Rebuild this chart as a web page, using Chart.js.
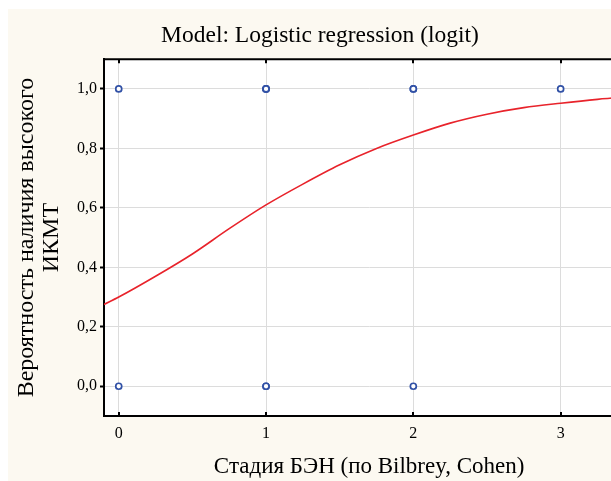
<!DOCTYPE html>
<html lang="ru">
  <head>
    <meta charset="UTF-8" />
    <title>Logistic regression</title>
    <script src="https://cdn.jsdelivr.net/npm/chart.js"></script>
    <style>
      html, body { margin: 0; padding: 0; background: #fff; overflow: hidden; }
      #wrap { width: 611px; height: 481px; overflow: hidden; }
    </style>
  </head>
  <body>
    <div id="wrap">
      <canvas id="myChart" width="640" height="481"></canvas>
    </div>
    <script>
      // observed cases (stage, outcome)
      let obsX = [0, 1, 1, 1, 2, 2, 3, 0, 1, 1, 2];
      let obsY = [1, 1, 1, 1, 1, 1, 1, 0, 0, 0, 0];

      // fitted curve
      let curveX = [-0.1, 0, 0.25, 0.5, 0.75, 1, 1.25, 1.5, 1.75, 2, 2.25, 2.5, 2.75, 3, 3.25, 3.5];
      let curveY = [0.275, 0.3, 0.37, 0.445, 0.53, 0.61, 0.68, 0.745, 0.8, 0.845, 0.885, 0.915, 0.937, 0.952, 0.965, 0.975];

      let xTicks = [0, 1, 2, 3];
      let yTicks = [0, 0.2, 0.4, 0.6, 0.8, 1];

      const serif = "'Liberation Serif', 'Times New Roman', serif";

      const frame = {
        id: "frame",
        beforeDraw(chart) {
          const ctx = chart.ctx;
          const a = chart.chartArea;
          ctx.save();
          ctx.fillStyle = "#fcf9f1";
          ctx.fillRect(8, 9, chart.width - 8, chart.height - 9);
          ctx.fillStyle = "#ffffff";
          ctx.fillRect(a.left, a.top, a.right - a.left, a.bottom - a.top);
          ctx.restore();
        },
        afterDraw(chart) {
          const ctx = chart.ctx;
          const a = chart.chartArea;
          const xs = chart.scales.x;
          ctx.save();
          ctx.strokeStyle = "#000";
          ctx.lineWidth = 2;
          ctx.beginPath();
          ctx.moveTo(a.left - 1, a.top);
          ctx.lineTo(a.right, a.top);
          xTicks.forEach((v) => {
            const px = Math.round(xs.getPixelForValue(v));
            ctx.moveTo(px, a.top);
            ctx.lineTo(px, a.top + 4);
            ctx.moveTo(px, a.bottom);
            ctx.lineTo(px, a.bottom - 4);
          });
          ctx.stroke();
          ctx.restore();
        },
      };

      new Chart(document.getElementById("myChart"), {
        data: {
          datasets: [
            {
              type: "scatter",
              data: obsX.map((x, i) => ({ x: x, y: obsY[i] })),
              pointRadius: 3,
              pointBorderWidth: 1.7,
              borderColor: "#3151a6",
              backgroundColor: "#ffffff",
              order: 1,
            },
            {
              type: "line",
              data: curveX.map((x, i) => ({ x: x, y: curveY[i] })),
              borderColor: "#e8232b",
              borderWidth: 1.6,
              pointRadius: 0,
              cubicInterpolationMode: "monotone",
              fill: false,
              order: 2,
            },
          ],
        },
        options: {
          responsive: false,
          animation: false,
          devicePixelRatio: 1,
          layout: { padding: 0 },
          plugins: {
            legend: { display: false },
            tooltip: { enabled: false },
            title: {
              display: true,
              text: "Model: Logistic regression (logit)",
              color: "#000",
              font: { family: serif, size: 23.5, weight: "normal", lineHeight: 1.2 },
              padding: { top: 22, bottom: 9 },
            },
          },
          scales: {
            x: {
              type: "linear",
              position: "bottom",
              min: -0.1,
              max: 3.5,
              afterBuildTicks: (s) => { s.ticks = xTicks.map((v) => ({ value: v })); },
              afterFit: (s) => { s.height = 65; },
              grid: { color: "#dcdcdc", lineWidth: 1, drawTicks: false },
              border: { color: "#000", width: 2 },
              ticks: {
                color: "#000",
                padding: 8,
                font: { family: serif, size: 16 },
                callback: (v) => String(v),
              },
              title: {
                display: true,
                text: "Стадия БЭН (по Bilbrey, Cohen)",
                color: "#000",
                font: { family: serif, size: 23, lineHeight: 1.15 },
                padding: { top: 0, bottom: 1 },
              },
            },
            y: {
              type: "linear",
              min: -0.1,
              max: 1.1,
              afterBuildTicks: (s) => { s.ticks = yTicks.map((v) => ({ value: v })); },
              afterFit: (s) => { s.width = 104; },
              grid: { color: "#dcdcdc", lineWidth: 1, tickColor: "#000", tickLength: 4, tickWidth: 2 },
              border: { color: "#000", width: 2 },
              ticks: {
                color: "#000",
                padding: 3,
                font: { family: serif, size: 16 },
                callback: (v) => v.toFixed(1).replace(".", ","),
              },
              title: {
                display: true,
                text: ["Вероятность наличия высокого", "ИКМТ"],
                color: "#000",
                font: { family: serif, size: 24, lineHeight: 1.05 },
                padding: { top: 14, bottom: 0 },
              },
            },
          },
        },
        plugins: [frame],
      });
    </script>
  </body>
</html>
